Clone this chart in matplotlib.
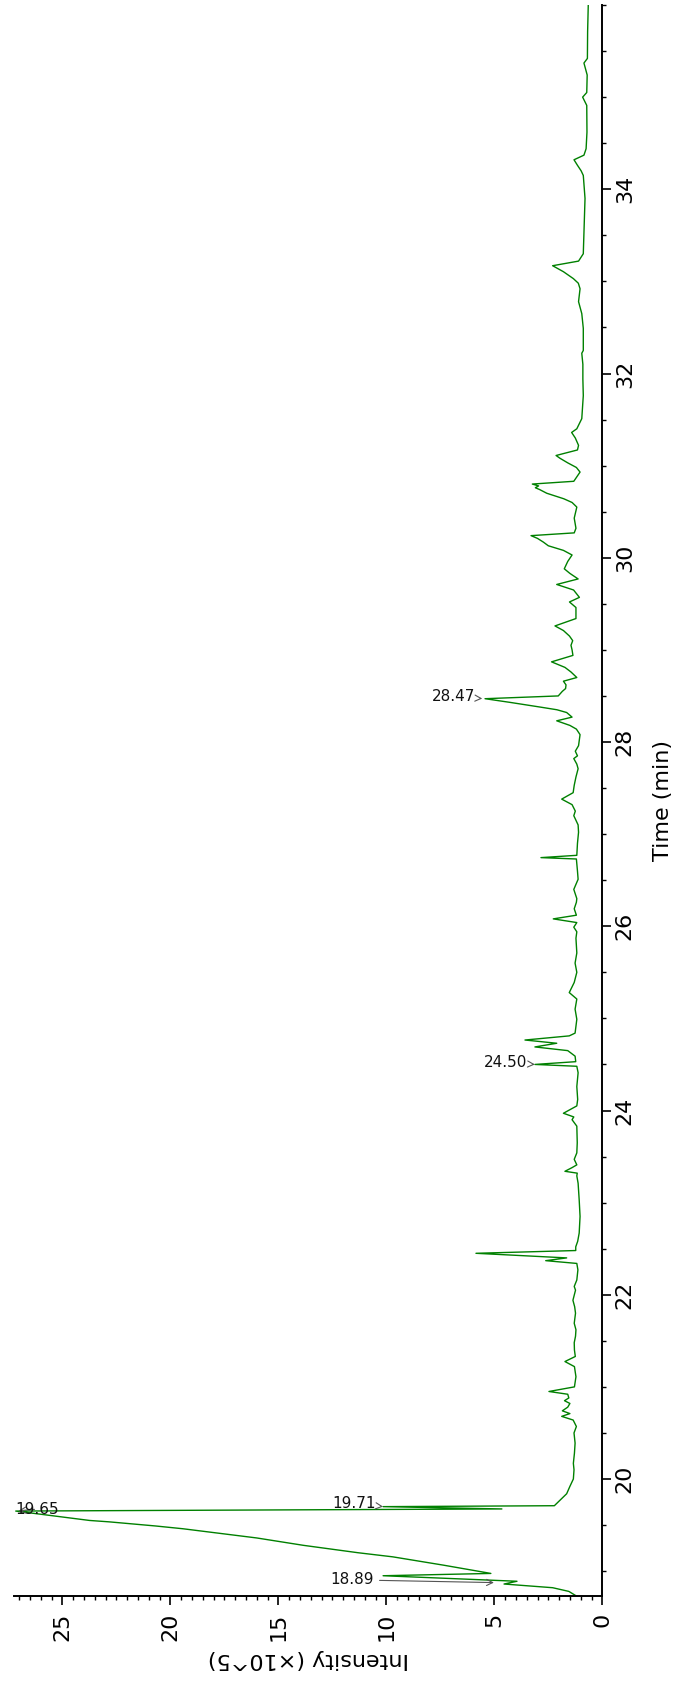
import matplotlib
matplotlib.use("Agg")
import matplotlib.pyplot as plt
from matplotlib.ticker import MultipleLocator

# ---- data (time in min, intensity in x10^5) ----
time_min = [
    18.73, 18.78, 18.82, 18.86, 18.89, 18.95, 18.975, 19.065, 19.155, 19.20,
    19.28, 19.36, 19.46, 19.49, 19.535, 19.55, 19.62, 19.652, 19.675, 19.70,
    19.71, 19.77, 19.84, 19.92, 20.00, 20.10, 20.17, 20.28, 20.39, 20.50,
    20.57, 20.64, 20.68, 20.71, 20.74, 20.78, 20.82, 20.85, 20.88, 20.92,
    20.95, 21.00, 21.11, 21.22, 21.275, 21.33, 21.40, 21.48, 21.55, 21.62,
    21.69, 21.80, 21.87, 21.94, 22.05, 22.09, 22.16, 22.27, 22.34, 22.37,
    22.40, 22.45, 22.48, 22.52, 22.58, 22.67, 22.85, 23.03, 23.21, 23.29,
    23.32, 23.34, 23.38, 23.41, 23.47, 23.54, 23.65, 23.83, 23.90, 23.93,
    23.97, 24.05, 24.12, 24.26, 24.41, 24.48, 24.50, 24.53, 24.59, 24.65,
    24.69, 24.73, 24.765, 24.81, 24.84, 24.99, 25.10, 25.21, 25.28, 25.39,
    25.50, 25.60, 25.71, 25.87, 25.94, 25.99, 26.04, 26.08, 26.12, 26.19,
    26.26, 26.30, 26.40, 26.51, 26.60, 26.73, 26.745, 26.77, 26.90, 27.02,
    27.10, 27.20, 27.25, 27.32, 27.38, 27.45, 27.53, 27.62, 27.71, 27.76,
    27.82, 27.85, 27.90, 27.96, 28.08, 28.14, 28.18, 28.23, 28.27, 28.32,
    28.35, 28.38, 28.43, 28.47, 28.50, 28.55, 28.58, 28.62, 28.66, 28.70,
    28.76, 28.81, 28.87, 28.94, 29.00, 29.05, 29.10, 29.15, 29.21, 29.26,
    29.34, 29.46, 29.52, 29.57, 29.65, 29.71, 29.77, 29.83, 29.88, 29.96,
    30.03, 30.08, 30.13, 30.17, 30.21, 30.24, 30.27, 30.32, 30.43, 30.55,
    30.60, 30.64, 30.70, 30.74, 30.76, 30.78, 30.80, 30.83, 30.93, 30.98,
    31.03, 31.08, 31.11, 31.17, 31.22, 31.30, 31.36, 31.40, 31.51, 31.76,
    31.94, 32.10, 32.22, 32.25, 32.49, 32.65, 32.78, 32.92, 32.98, 33.03,
    33.105, 33.17, 33.22, 33.30, 33.54, 33.90, 34.15, 34.20, 34.26, 34.32,
    34.37, 34.44, 34.62, 34.91, 35.00, 35.05, 35.24, 35.37, 35.42, 35.71,
    36.00,
]
intensity = [
    1.20, 1.55, 2.30, 4.55, 3.95, 10.15, 5.16, 7.36, 9.70, 11.32,
    13.84, 16.00, 19.42, 20.68, 22.84, 23.74, 26.08, 27.16, 4.65, 10.15,
    2.22, 1.96, 1.65, 1.50, 1.34, 1.31, 1.34, 1.29, 1.26, 1.31,
    1.20, 1.35, 1.88, 1.50, 1.85, 1.60, 1.50, 1.75, 1.55, 1.60,
    2.47, 1.29, 1.22, 1.29, 1.73, 1.25, 1.29, 1.30, 1.24, 1.22,
    1.30, 1.24, 1.28, 1.36, 1.24, 1.30, 1.18, 1.13, 1.18, 2.62,
    1.65, 5.85, 1.23, 1.23, 1.14, 1.07, 1.03, 1.07, 1.12, 1.18,
    1.16, 1.73, 1.40, 1.18, 1.30, 1.18, 1.16, 1.18, 1.40, 1.32,
    1.80, 1.18, 1.14, 1.18, 1.12, 1.18, 3.12, 1.23, 1.26, 1.60,
    3.12, 2.11, 3.58, 1.53, 1.26, 1.18, 1.26, 1.18, 1.53, 1.30,
    1.18, 1.26, 1.18, 1.22, 1.18, 1.32, 1.18, 2.27, 1.20, 1.30,
    1.20, 1.18, 1.32, 1.12, 1.15, 1.20, 2.84, 1.18, 1.15, 1.10,
    1.12, 1.32, 1.25, 1.40, 1.88, 1.35, 1.30, 1.22, 1.12, 1.18,
    1.32, 1.15, 1.25, 1.10, 1.03, 1.20, 1.50, 2.11, 1.40, 1.65,
    2.10, 2.90, 4.27, 5.43, 2.04, 1.85, 1.70, 1.68, 1.80, 1.18,
    1.45, 1.73, 2.35, 1.36, 1.40, 1.45, 1.37, 1.52, 1.80, 2.19,
    1.22, 1.22, 1.52, 1.06, 1.33, 2.11, 1.12, 1.50, 1.76, 1.60,
    1.40, 1.80, 2.50, 2.73, 3.00, 3.30, 1.30, 1.22, 1.30, 1.18,
    1.40, 1.78, 2.57, 2.90, 3.10, 2.95, 3.24, 1.32, 1.03, 1.20,
    1.60, 1.96, 2.14, 1.15, 1.10, 1.25, 1.42, 1.18, 0.95, 0.88,
    0.90, 0.90, 0.95, 0.88, 0.88, 0.95, 1.10, 1.03, 1.11, 1.34,
    1.80, 2.30, 1.10, 0.88, 0.85, 0.80, 0.88, 0.98, 1.15, 1.31,
    0.85, 0.75, 0.71, 0.72, 0.91, 0.72, 0.70, 0.85, 0.69, 0.68,
    0.65,
]

peak_labels = ["18.89", "19.65", "19.71", "24.50", "28.47"]
peak_time = [18.875, 19.652, 19.70, 24.50, 28.47]
peak_int = [4.89, 27.16, 10.15, 3.12, 5.43]

time_ticks = [20, 22, 24, 26, 28, 30, 32, 34]
int_ticks = [0, 5, 10, 15, 20, 25]

# label offsets (points) in the rotated view
label_offsets = [(-104, 2), (15.5, 1.4), (-21, 2.4), (-21, 1.2), (-23, 1.3)]

fig = plt.figure(figsize=(6.87, 16.85), dpi=100)
ax = fig.add_axes([14 / 687, 89 / 1685, 588.3 / 687, 1591 / 1685])

ax.plot(intensity, time_min, color="green", lw=1.0)

ax.set_xlim(27.24, 0)
ax.set_ylim(18.73, 36.0)

for s in ("top", "left"):
    ax.spines[s].set_visible(False)
for s in ("bottom", "right"):
    ax.spines[s].set_linewidth(1.4)

ax.yaxis.tick_right()
ax.yaxis.set_label_position("right")
ax.set_yticks(time_ticks)
ax.yaxis.set_minor_locator(MultipleLocator(0.5))
ax.set_xticks(int_ticks)
ax.xaxis.set_minor_locator(MultipleLocator(0.5))

ax.tick_params(which="major", length=6.5, width=1.2, labelsize=16)
ax.tick_params(which="minor", length=3.2, width=1.0)
ax.tick_params(axis="y", which="major", pad=2.5)
ax.tick_params(axis="x", which="major", pad=5.5)
for lab in ax.get_yticklabels():
    lab.set_rotation(90)
    lab.set_va("center")
    lab.set_ha("left")
for lab in ax.get_xticklabels():
    lab.set_rotation(90)
    lab.set_ha("center")
    lab.set_va("top")

ax.set_ylabel("Time (min)", fontsize=16, rotation=90, labelpad=13)
ax.set_xlabel("Intensity (×10^5)", fontsize=16, rotation=180, labelpad=6)

for txt, t, v, off in zip(peak_labels, peak_time, peak_int, label_offsets):
    ax.annotate(txt, xy=(v, t), xytext=off, textcoords="offset points",
                ha="center", va="center", fontsize=11, color="#111111",
                arrowprops=dict(arrowstyle="->", color="#555555", lw=0.8),
                annotation_clip=False)

fig.savefig("out.png", dpi=100)
